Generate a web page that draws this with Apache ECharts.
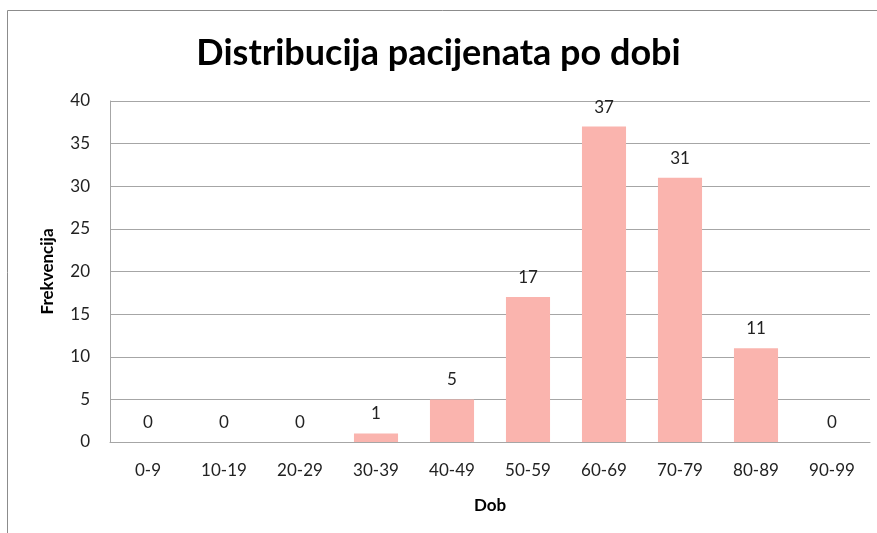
<!DOCTYPE html>
<html>
<head>
<meta charset="utf-8">
<script src="https://cdn.jsdelivr.net/npm/echarts@6/dist/echarts.min.js"></script>
<style>
  html, body { margin: 0; padding: 0; background: #fff; overflow: hidden; }
  #chart { width: 877px; height: 533px; }
</style>
</head>
<body>
<div id="chart"></div>
<script>
// age groups and patient counts
var categories = ['0-9', '10-19', '20-29', '30-39', '40-49', '50-59', '60-69', '70-79', '80-89', '90-99'];
var counts = [0, 0, 0, 1, 5, 17, 37, 31, 11, 0];
var yTicks = [0, 5, 10, 15, 20, 25, 30, 35, 40];

var font = 'Lato, "Open Sans", sans-serif';

var myChart = echarts.init(document.getElementById('chart'));

var option = {
  animation: false,
  title: {
    text: 'Distribucija pacijenata po dobi',
    left: 'center',
    top: 30,
    textStyle: { fontFamily: font, fontSize: 36, fontWeight: 'bold', color: '#000' }
  },
  graphic: [{
    type: 'rect',
    shape: { x: 7.5, y: 10.5, width: 900, height: 600 },
    style: { fill: 'none', stroke: '#8c8c8c', lineWidth: 1 },
    silent: true
  }],
  grid: { left: 110, right: 7, top: 101, bottom: 91 },
  xAxis: {
    type: 'category',
    data: categories,
    name: 'Dob',
    nameLocation: 'middle',
    nameGap: 55,
    nameTextStyle: { fontFamily: font, fontSize: 17, fontWeight: 'bold', color: '#000' },
    axisLine: { lineStyle: { color: '#a6a6a6' } },
    axisTick: { show: false },
    axisLabel: { fontFamily: font, fontSize: 17, color: '#222', margin: 20 }
  },
  yAxis: {
    type: 'value',
    min: yTicks[0],
    max: yTicks[yTicks.length - 1],
    interval: 5,
    name: 'Frekvencija',
    nameLocation: 'middle',
    nameGap: 54,
    nameTextStyle: { fontFamily: font, fontSize: 17, fontWeight: 'bold', color: '#000' },
    axisLine: { show: true, lineStyle: { color: '#a6a6a6' } },
    axisTick: { show: false },
    axisLabel: { fontFamily: font, fontSize: 17, color: '#222', margin: 20 },
    splitLine: { lineStyle: { color: '#a6a6a6' } }
  },
  series: [{
    type: 'bar',
    data: counts,
    barWidth: '58%',
    itemStyle: { color: '#FAB4AE' },
    label: {
      show: true,
      position: 'top',
      distance: 11,
      fontFamily: font,
      fontSize: 17,
      color: '#222'
    }
  }]
};

myChart.setOption(option);
</script>
</body>
</html>
